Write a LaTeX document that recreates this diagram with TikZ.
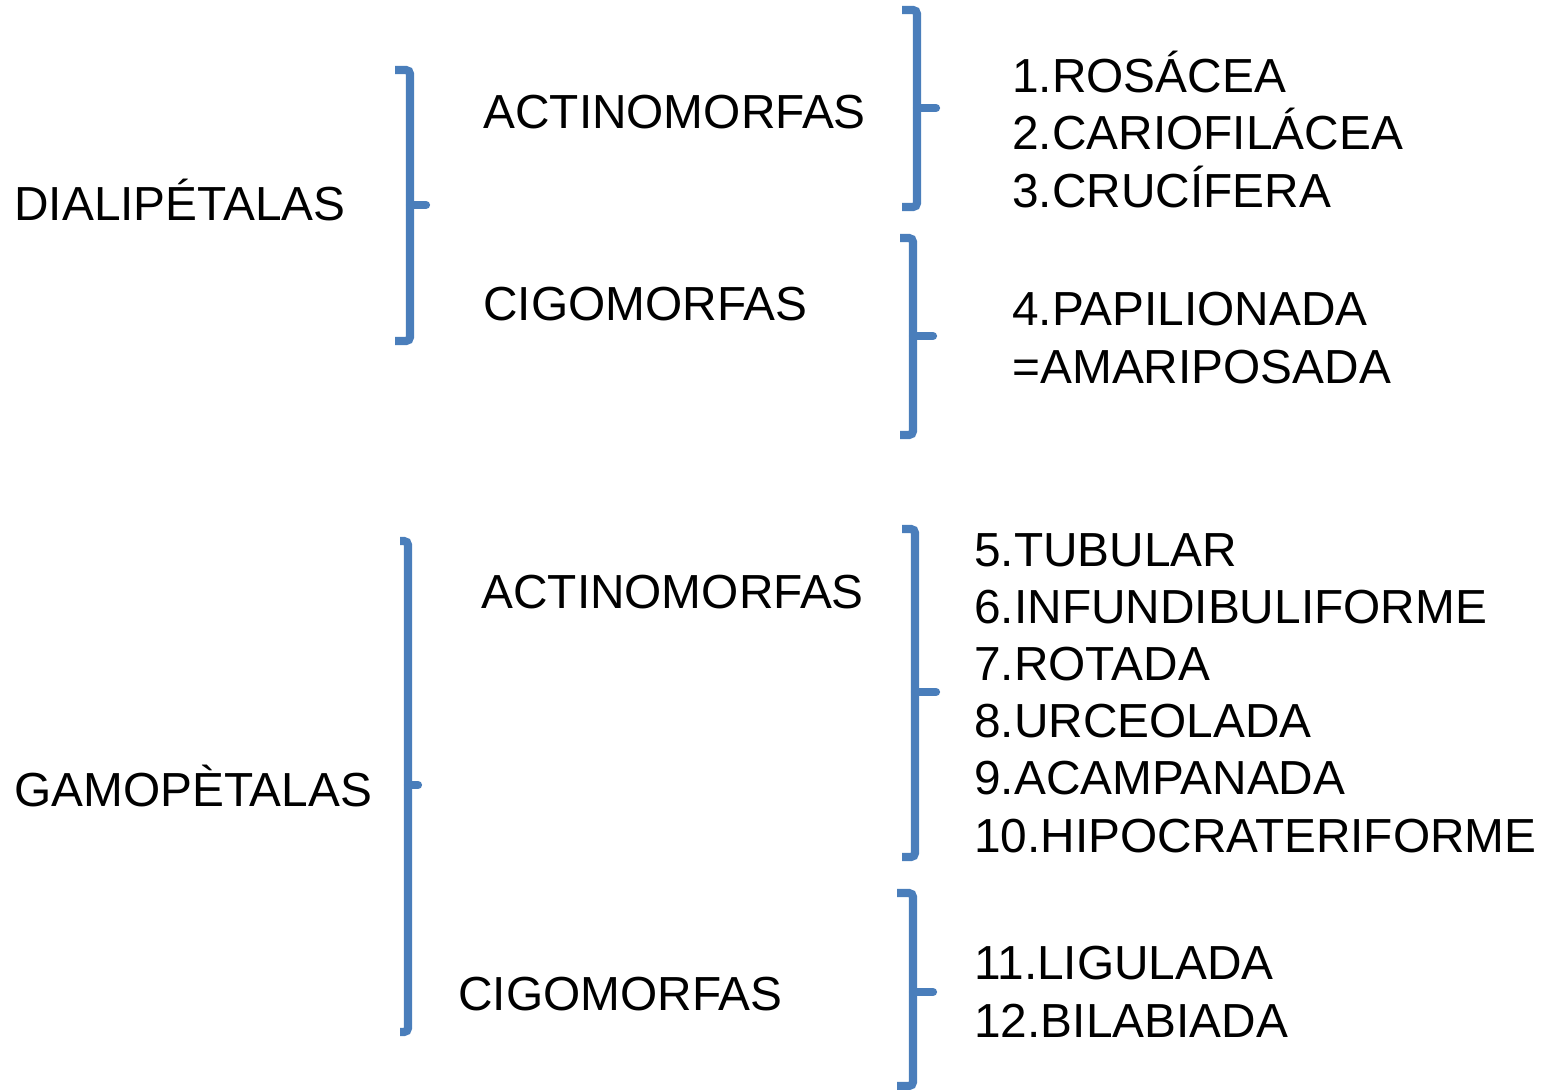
\documentclass[tikz,border=0pt]{standalone}
\usepackage{fontspec}
\setmainfont{Liberation Sans}
\definecolor{llaveazul}{RGB}{74,126,187}

\tikzset{
  llave/.style={draw=llaveazul, line width=4.1pt, rounded corners=2pt},
  grupo/.style={anchor=base west, inner sep=0pt,
                font=\fontsize{23.9}{28.6}\selectfont},
  lista/.style={grupo, align=left}
}

\begin{document}
\begin{tikzpicture}[x=0.5pt, y=-0.5pt]
  \useasboundingbox (0,0) rectangle (1547,1089);

  \node [grupo] at (14,220)  (Diali)  {DIALIPÉTALAS};
  \node [grupo] at (483,128) (ActA)   {ACTINOMORFAS};
  \node [grupo] at (483,320) (CigA)   {CIGOMORFAS};
  % lists sit on the baseline of their last line
  \node [lista] at (1012,207) (ListA) {1.ROSÁCEA\\2.CARIOFILÁCEA\\3.CRUCÍFERA};
  \node [lista] at (1012,383) (ListB) {4.PAPILIONADA\\=AMARIPOSADA};

  \node [grupo] at (14,806)  (Gamo)   {GAMOPÈTALAS};
  \node [grupo] at (481,608) (ActB)   {ACTINOMORFAS};
  \node [grupo] at (458,1010) (CigB)  {CIGOMORFAS};
  \node [lista] at (974,852) (ListC)  {5.TUBULAR\\6.INFUNDIBULIFORME\\7.ROTADA\\8.URCEOLADA\\9.ACAMPANADA\\10.HIPOCRATERIFORME};
  \node [lista] at (974,1037) (ListD) {11.LIGULADA\\12.BILABIADA};

  % llaves
  \draw [llave] (395,70) -- (410,70) -- (410,341) -- (395,341);
  \draw [llave, line cap=round] (410,205) -- (426,205);

  \draw [llave] (902,10) -- (917,10) -- (917,207) -- (902,207);
  \draw [llave, line cap=round] (917,108) -- (936,108);

  \draw [llave] (900,238) -- (913,238) -- (913,435) -- (900,435);
  \draw [llave, line cap=round] (913,336) -- (933,336);

  \draw [llave] (400,541) -- (408,541) -- (408,1032) -- (400,1032);
  \draw [llave, line cap=round] (408,785) -- (418,785);

  \draw [llave] (902,529) -- (915,529) -- (915,857) -- (902,857);
  \draw [llave, line cap=round] (915,692) -- (936,692);

  \draw [llave] (897,893) -- (913,893) -- (913,1086) -- (897,1086);
  \draw [llave, line cap=round] (913,992) -- (933,992);
\end{tikzpicture}
\end{document}
